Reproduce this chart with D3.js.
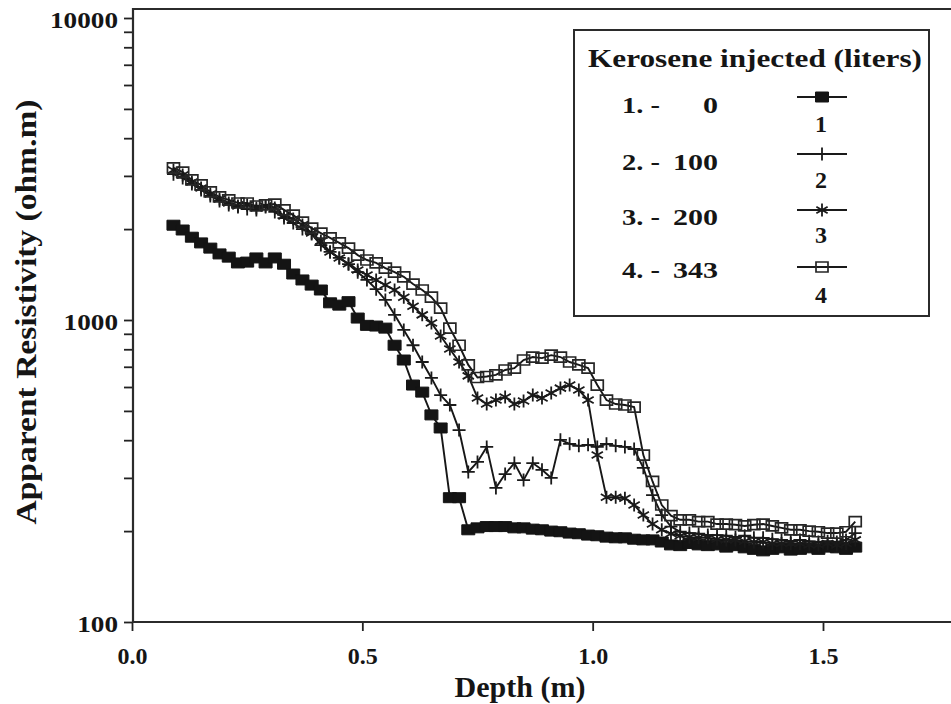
<!DOCTYPE html>
<html><head><meta charset="utf-8">
<script src="https://cdn.jsdelivr.net/npm/d3@7"></script>
<style>
body{margin:0;background:#fff}
svg{display:block}
text{font-family:"Liberation Serif","Times New Roman",serif;font-weight:bold;fill:#151515}
</style>
</head><body>
<svg id="c" width="951" height="704"></svg>
<script>
// ---------- data ----------
const depth=[0.09,0.11,0.13,0.15,0.17,0.19,0.21,0.23,0.25,0.27,
0.29,0.31,0.33,0.35,0.37,0.39,0.41,0.43,0.45,0.47,
0.49,0.51,0.53,0.55,0.57,0.59,0.61,0.63,0.65,0.67,
0.69,0.71,0.73,0.75,0.77,0.79,0.81,0.83,0.85,0.87,
0.89,0.91,0.93,0.95,0.97,0.99,1.01,1.03,1.05,1.07,
1.09,1.11,1.13,1.15,1.17,1.19,1.21,1.23,1.25,1.27,
1.29,1.31,1.33,1.35,1.37,1.39,1.41,1.43,1.45,1.47,
1.49,1.51,1.53,1.55,1.57];

const res0=[2060,1986,1880,1800,1730,1655,1615,1545,1555,1605,
1545,1605,1530,1420,1357,1305,1257,1140,1120,1150,
1015,960,955,940,825,737,609,577,485,439,
258,258,202,205,207,207,207,205,205,203,
202,200,199,197,196,194,193,191,190,190,
188,187,187,184,180,179,182,180,179,180,
177,179,176,174,172,174,176,173,174,176,
174,177,176,174,177];

const res100=[3040,2955,2820,2695,2575,2480,2405,2365,2330,2313,
2365,2280,2175,2095,2000,1925,1770,1680,1605,1530,
1440,1357,1265,1165,1040,927,825,726,643,564,
523,432,314,339,380,278,309,336,295,336,
319,300,401,389,383,386,380,389,383,380,
374,324,263,226,207,199,197,196,194,194,
193,191,193,190,190,188,187,185,187,185,
184,185,184,187,197];

const res200=[3140,3020,2865,2735,2615,2515,2440,2385,2405,2350,
2385,2350,2210,2160,2065,1940,1825,1680,1605,1535,
1464,1410,1357,1305,1257,1190,1110,1040,978,885,
802,726,653,552,527,543,556,527,539,564,
552,573,595,609,586,543,357,259,259,257,
244,226,211,202,196,193,191,190,190,188,
187,187,185,184,184,182,182,182,182,180,
180,182,180,182,187];

const res343=[3190,3090,2910,2800,2655,2555,2500,2440,2440,2385,
2405,2420,2315,2225,2110,2015,1940,1870,1800,1730,
1640,1580,1545,1485,1440,1390,1315,1257,1190,1095,
940,825,710,645,650,658,683,693,737,754,
748,765,754,726,710,693,609,543,527,523,
515,357,292,244,225,218,218,215,215,211,
211,210,208,210,211,208,205,202,202,200,
199,197,197,199,215];

const xTickValues=[0,0.5,1.0,1.5];
const yMajorTicks=[100,1000,10000];
const legendTitle="Kerosene injected (liters)";
const legendNums=["1","2","3","4"];
const legendAmounts=["0","100","200","343"];
const xTitle="Depth (m)";
const yTitle="Apparent Resistivity (ohm.m)";

// ---------- chart ----------
const svg=d3.select("#c");
const x=d3.scaleLinear().domain([0,1.5]).range([132,823]);
const y=d3.scaleLog().domain([100,10000]).range([622,18]);
const X0=133, YB=622, YT=9, XR=951;

// marker shapes
const sq=(w,h)=>`M${-w/2},${-h/2}h${w}v${h}h${-w}Z`;
const plus=s=>`M0,${-s}V${s}M${-s},0H${s}`;
const star=s=>{const a=s*Math.cos(Math.PI/6),b=s/2;return `M0,${-s}V${s}M${-a},${-b}L${a},${b}M${-a},${b}L${a},${-b}`;};

const series=[
  {vals:res0,  mark:sq(13,10), fill:"#141414", stroke:"#141414", sw:1},
  {vals:res100,mark:plus(6.5), fill:"none", stroke:"#1a1a1a", sw:1.8},
  {vals:res200,mark:star(6.5), fill:"none", stroke:"#1a1a1a", sw:1.8},
  {vals:res343,mark:sq(12,10), fill:"none", stroke:"#262626", sw:1.7}
];

const gPlot=svg.append("g");
const line=d3.line().x(d=>x(d[0])).y(d=>y(d[1]));
series.forEach(s=>{
  const pts=depth.map((d,i)=>[d,s.vals[i]]);
  gPlot.append("path").attr("d",line(pts)).attr("fill","none")
    .attr("stroke","#171717").attr("stroke-width",1.9);
  gPlot.selectAll(null).data(pts).enter().append("path")
    .attr("transform",d=>`translate(${x(d[0])},${y(d[1])})`)
    .attr("d",s.mark).attr("fill",s.fill).attr("stroke",s.stroke).attr("stroke-width",s.sw);
});

// axes
const yAxis=d3.axisLeft(y).tickValues(y.ticks()).tickSize(9).tickSizeOuter(0).tickPadding(6)
  .tickFormat(d=>yMajorTicks.includes(d)?String(d):"");
const gy=svg.append("g").attr("transform",`translate(${X0},0)`).call(yAxis);
gy.select(".domain").remove();
gy.selectAll(".tick line").attr("stroke","#222").attr("stroke-width",1.8);
gy.selectAll(".tick text").attr("font-size",23).attr("dy","0.42em").attr("fill","#151515")
  .style("font-family",'"Liberation Serif",serif').style("font-weight","bold")
  .each(function(d){const t=this.textContent; if(t){d3.select(this).attr("textLength",13.6*t.length).attr("lengthAdjust","spacingAndGlyphs");}});

const xAxis=d3.axisBottom(x).tickValues(xTickValues).tickSize(9).tickSizeOuter(0).tickPadding(16)
  .tickFormat(d3.format(".1f"));
const gx=svg.append("g").attr("transform",`translate(0,${YB})`).call(xAxis);
gx.select(".domain").remove();
gx.selectAll(".tick line").attr("stroke","#222").attr("stroke-width",1.8);
gx.selectAll(".tick text").attr("font-size",24).attr("fill","#151515")
  .style("font-family",'"Liberation Serif",serif').style("font-weight","bold");

// frame
svg.append("path").attr("d",`M${XR},${YT}H${X0}V${YB}H${XR}`).attr("fill","none")
  .attr("stroke","#2b2b2b").attr("stroke-width",2.2);

// titles
svg.append("text").attr("x",520).attr("y",697).attr("text-anchor","middle")
  .attr("font-size",30).attr("textLength",131).attr("lengthAdjust","spacingAndGlyphs").text(xTitle);
svg.append("text").attr("transform","translate(36,312) rotate(-90)").attr("text-anchor","middle")
  .attr("font-size",30).attr("textLength",425).attr("lengthAdjust","spacingAndGlyphs").text(yTitle);

// legend
const lg=svg.append("g");
lg.append("rect").attr("x",574).attr("y",30).attr("width",355).attr("height",286)
  .attr("fill","#fff").attr("stroke","#2b2b2b").attr("stroke-width",2);
lg.append("text").attr("x",588).attr("y",67).attr("font-size",25)
  .attr("textLength",334).attr("lengthAdjust","spacingAndGlyphs").text(legendTitle);
const rowY=[97,154,210,267];
const textBase=[113,170,225,278];
const numBase=[132,188,243,303];
series.forEach((s,i)=>{
  lg.append("text").attr("x",622).attr("y",textBase[i]).attr("font-size",24)
    .attr("textLength",38).attr("lengthAdjust","spacingAndGlyphs").text(legendNums[i]+". -");
  lg.append("text").attr("x",718).attr("y",textBase[i]).attr("font-size",24).attr("text-anchor","end")
    .attr("textLength",15*legendAmounts[i].length).attr("lengthAdjust","spacingAndGlyphs").text(legendAmounts[i]);
  lg.append("line").attr("x1",797).attr("x2",847).attr("y1",rowY[i]).attr("y2",rowY[i])
    .attr("stroke","#1a1a1a").attr("stroke-width",2);
  lg.append("path").attr("transform",`translate(822,${rowY[i]})`).attr("d",s.mark)
    .attr("fill",s.fill).attr("stroke",s.stroke).attr("stroke-width",s.sw);
  lg.append("text").attr("x",821).attr("y",numBase[i]).attr("font-size",24).attr("text-anchor","middle")
    .text(legendNums[i]);
});
</script>
</body></html>
